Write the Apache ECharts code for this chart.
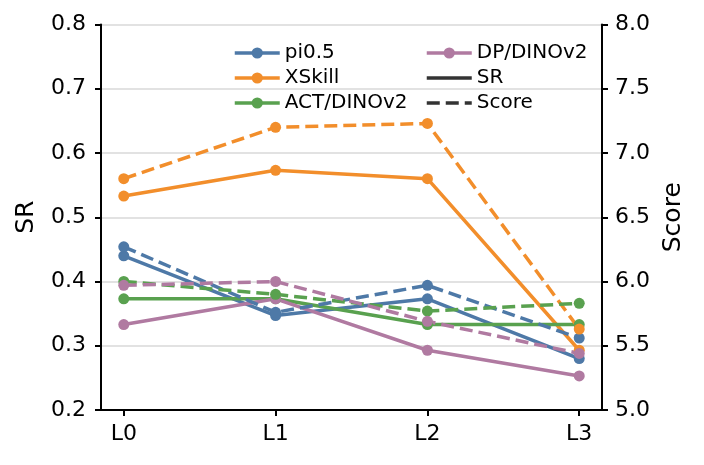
<!DOCTYPE html>
<html>
<head>
<meta charset="utf-8">
<script src="https://cdn.jsdelivr.net/npm/echarts@6/dist/echarts.min.js"></script>
<style>
  html, body { margin: 0; padding: 0; background: #fff; }
  #chart { width: 704px; height: 465px; }
</style>
</head>
<body>
<div id="chart"></div>
<script>
const levels = ['L0', 'L1', 'L2', 'L3']
const methods = ['pi0.5', 'XSkill', 'ACT/DINOv2', 'DP/DINOv2']
const colors = ['#4e79a7', '#f28e2b', '#59a14f', '#b07aa1']

// success rate per level (left axis)
const srPi05 = [0.44, 0.347, 0.373, 0.28]
const srXSkill = [0.533, 0.573, 0.56, 0.293]
const srAct = [0.373, 0.373, 0.333, 0.333]
const srDp = [0.333, 0.373, 0.293, 0.253]

// score per level (right axis)
const scorePi05 = [6.27, 5.76, 5.97, 5.56]
const scoreXSkill = [6.8, 7.2, 7.23, 5.63]
const scoreAct = [6.0, 5.9, 5.77, 5.83]
const scoreDp = [5.97, 6.0, 5.69, 5.44]

const srData = [srPi05, srXSkill, srAct, srDp]
const scoreData = [scorePi05, scoreXSkill, scoreAct, scoreDp]

const font = 'DejaVu Sans'
const lineW = 3.5
const dash = [13, 6]
const chart = echarts.init(document.getElementById('chart'))

function toPoints(values) {
  return values.map((v, i) => [i, v])
}

const series = []
methods.forEach((name, k) => {
  series.push({
    name: name,
    type: 'line',
    yAxisIndex: 0,
    data: toPoints(srData[k]),
    symbol: 'circle',
    symbolSize: 11,
    itemStyle: { color: colors[k] },
    lineStyle: { color: colors[k], width: lineW }
  })
})
methods.forEach((name, k) => {
  series.push({
    name: name,
    type: 'line',
    yAxisIndex: 1,
    data: toPoints(scoreData[k]),
    symbol: 'circle',
    symbolSize: 11,
    itemStyle: { color: colors[k] },
    lineStyle: { color: colors[k], width: lineW, type: dash }
  })
})
// legend-only entries for line style
series.push({
  name: 'SR', type: 'line', data: [], symbol: 'none', symbolSize: 0,
  itemStyle: { color: '#333', opacity: 0 }, lineStyle: { color: '#333', width: lineW }
})
series.push({
  name: 'Score', type: 'line', data: [], symbol: 'none', symbolSize: 0,
  itemStyle: { color: '#333', opacity: 0 }, lineStyle: { color: '#333', width: lineW, type: dash }
})

const axisLine = { show: true, onZero: false, lineStyle: { color: '#000', width: 2 } }
const axisTick = { show: true, length: 6, lineStyle: { color: '#000', width: 2 } }

const legendCommon = {
  orient: 'vertical',
  itemWidth: 45,
  itemHeight: 14,
  itemGap: 5,
  lineStyle: { width: lineW },
  textStyle: { fontFamily: font, fontSize: 20, color: '#000', lineHeight: 20 },
  selectedMode: false
}

const option = {
  animation: false,
  textStyle: { fontFamily: font },
  grid: { left: 101, right: 102, top: 24.5, bottom: 55 },
  legend: [
    Object.assign({ left: 228, top: 38, data: methods.slice(0, 3) }, legendCommon),
    Object.assign({ left: 420, top: 38, data: [methods[3], 'SR', 'Score'] }, legendCommon)
  ],
  xAxis: {
    type: 'value',
    min: -0.15,
    max: 3.15,
    axisLine: axisLine,
    axisTick: Object.assign({ customValues: [0, 1, 2, 3] }, axisTick),
    axisLabel: {
      customValues: [0, 1, 2, 3],
      formatter: v => levels[Math.round(v)],
      fontFamily: font, fontSize: 22, color: '#000', margin: 13
    },
    splitLine: { show: false }
  },
  yAxis: [
    {
      type: 'value',
      name: 'SR',
      nameLocation: 'middle',
      nameRotate: 90,
      nameGap: 62,
      nameTextStyle: { fontFamily: font, fontSize: 25, color: '#000' },
      min: 0.2, max: 0.8, interval: 0.1,
      axisLine: axisLine,
      axisTick: axisTick,
      axisLabel: {
        formatter: v => v.toFixed(1),
        fontFamily: font, fontSize: 22, color: '#000', margin: 15
      },
      splitLine: { show: true, lineStyle: { color: '#d9d9d9', width: 1.5 } }
    },
    {
      type: 'value',
      name: 'Score',
      nameLocation: 'middle',
      nameRotate: 90,
      nameGap: 58,
      nameTextStyle: { fontFamily: font, fontSize: 25, color: '#000' },
      position: 'right',
      min: 5, max: 8, interval: 0.5,
      axisLine: axisLine,
      axisTick: axisTick,
      axisLabel: {
        formatter: v => v.toFixed(1),
        fontFamily: font, fontSize: 22, color: '#000', margin: 13
      },
      splitLine: { show: false }
    }
  ],
  series: series
}

chart.setOption(option)
</script>
</body>
</html>
